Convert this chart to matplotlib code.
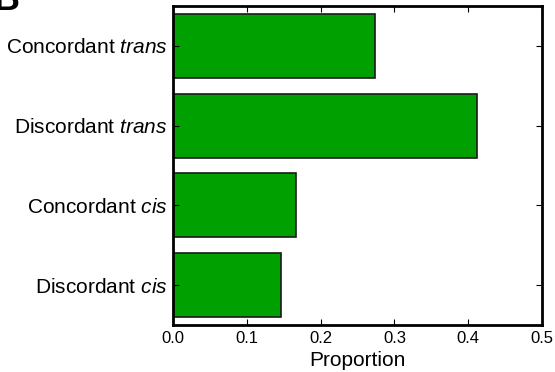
import matplotlib
matplotlib.use("Agg")
import matplotlib.pyplot as plt

categories = ["Discordant $\\it{cis}$", "Concordant $\\it{cis}$",
              "Discordant $\\it{trans}$", "Concordant $\\it{trans}$"]
proportions = [0.147, 0.166, 0.412, 0.274]
xticks = [0.0, 0.1, 0.2, 0.3, 0.4, 0.5]

plt.rcParams["font.family"] = ["Liberation Sans", "DejaVu Sans"]
plt.rcParams["mathtext.fontset"] = "custom"
plt.rcParams["mathtext.it"] = "Liberation Sans:italic"
plt.rcParams["mathtext.rm"] = "Liberation Sans"

fig = plt.figure(figsize=(5.55, 3.72), dpi=100)
ax = fig.add_axes([173 / 555, 1 - 325 / 372, 369 / 555, 319 / 372])

ypos = list(range(len(categories)))
ax.barh(ypos, proportions, height=0.8, color="#00a000",
        edgecolor="#1a1a1a", linewidth=1.2)

ax.set_xlim(0, 0.5)
ax.set_ylim(-0.5, 3.5)
ax.set_yticks(ypos)
ax.set_yticklabels(categories, fontsize=15)
ax.set_xticks(xticks)
ax.set_xticklabels([f"{v:.1f}" for v in xticks], fontsize=12)
ax.set_xlabel("Proportion", fontsize=15, labelpad=4)

ax.tick_params(direction="in", top=True, right=True, length=4, width=0.8)
ax.tick_params(axis="y", pad=4)
ax.tick_params(axis="x", pad=4)
for s in ax.spines.values():
    s.set_linewidth(2)

fig.text(-0.012, 1 - 10 / 372, "B", fontsize=26, fontweight="bold",
         ha="left", va="baseline")

fig.savefig("out.png", dpi=100)
